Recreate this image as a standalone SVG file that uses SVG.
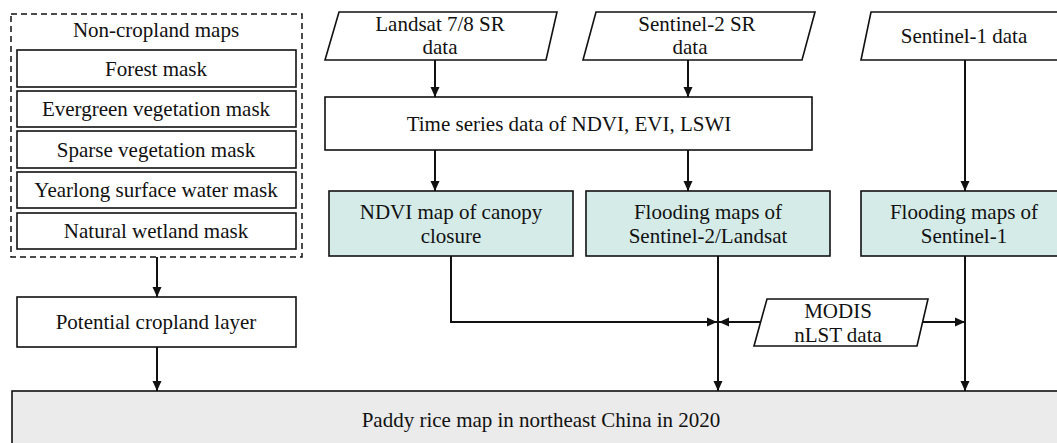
<svg xmlns="http://www.w3.org/2000/svg" width="1057" height="443" viewBox="0 0 1057 443">
<style>
text{font-family:"Liberation Serif","Times New Roman",serif;font-size:21px;fill:#111;text-anchor:middle}
.box{fill:#fff;stroke:#111;stroke-width:1.6}
.cyan{fill:#d4ebe8;stroke:#111;stroke-width:1.6}
.gray{fill:#ebebeb;stroke:#111;stroke-width:1.6}
.dash{fill:none;stroke:#111;stroke-width:1.5;stroke-dasharray:6 4}
.conn{fill:none;stroke:#111;stroke-width:2}
</style>
<defs>
<marker id="ah" viewBox="0 0 10 10" refX="10" refY="5" markerWidth="10" markerHeight="10" markerUnits="userSpaceOnUse" orient="auto">
<path d="M0,0.5 L10,5 L0,9.5 Z" fill="#111"/>
</marker>
</defs>
<rect width="1057" height="443" fill="#fff"/>
<g id="noncropland">
<rect class="dash" x="11" y="14" width="291" height="243"/>
<text x="156" y="37">Non-cropland maps</text>
</g>
<g id="forest"><rect class="box" x="17" y="50" width="279" height="37"/><text x="156" y="76">Forest mask</text></g>
<g id="evergreen"><rect class="box" x="17" y="91" width="279" height="36"/><text x="156" y="116">Evergreen vegetation mask</text></g>
<g id="sparse"><rect class="box" x="17" y="131" width="279" height="37"/><text x="156" y="157">Sparse vegetation mask</text></g>
<g id="yearlong"><rect class="box" x="17" y="172" width="279" height="36"/><text x="156" y="197">Yearlong surface water mask</text></g>
<g id="wetland"><rect class="box" x="17" y="213" width="279" height="36"/><text x="156" y="238">Natural wetland mask</text></g>
<g id="potential"><rect class="box" x="17" y="297" width="279" height="50"/><text x="156" y="329">Potential cropland layer</text></g>
<g id="landsat"><polygon class="box" points="339,12 557,12 546,60 325,60"/><text x="440" y="31">Landsat 7/8 SR</text><text x="440" y="54">data</text></g>
<g id="sentinel2"><polygon class="box" points="596,12 815,12 802,60 583,60"/><text x="697" y="31">Sentinel-2 SR</text><text x="690" y="54">data</text></g>
<g id="sentinel1"><polygon class="box" points="871,12 1070,12 1058,60 861,60"/><text x="964" y="43">Sentinel-1 data</text></g>
<g id="timeseries"><rect class="box" x="325" y="97" width="487" height="53"/><text x="569" y="131">Time series data of NDVI, EVI, LSWI</text></g>
<g id="ndvi"><rect class="cyan" x="329" y="191" width="244" height="65"/><text x="451" y="219">NDVI map of canopy</text><text x="451" y="243">closure</text></g>
<g id="flood2"><rect class="cyan" x="586" y="191" width="244" height="65"/><text x="708" y="219">Flooding maps of</text><text x="708" y="243">Sentinel-2/Landsat</text></g>
<g id="flood1"><rect class="cyan" x="861" y="191" width="210" height="65"/><text x="964" y="219">Flooding maps of</text><text x="964" y="243">Sentinel-1</text></g>
<g id="modis"><polygon class="box" points="767,299 928,299 917,346 754,346"/><text x="838" y="318">MODIS</text><text x="838" y="342">nLST data</text></g>
<g id="paddy"><rect class="gray" x="12" y="391" width="1060" height="62"/><text x="541" y="427">Paddy rice map in northeast China in 2020</text></g>
<g id="connectors">
<path class="conn" d="M435,60 V97" marker-end="url(#ah)"/>
<path class="conn" d="M688,60 V97" marker-end="url(#ah)"/>
<path class="conn" d="M435,150 V191" marker-end="url(#ah)"/>
<path class="conn" d="M688,150 V191" marker-end="url(#ah)"/>
<path class="conn" d="M965,60 V191" marker-end="url(#ah)"/>
<path class="conn" d="M157,257 V297" marker-end="url(#ah)"/>
<path class="conn" d="M157,347 V391" marker-end="url(#ah)"/>
<path class="conn" d="M451,256 V322 H717" marker-end="url(#ah)"/>
<path class="conn" d="M718,256 V391" marker-end="url(#ah)"/>
<path class="conn" d="M761,322 H719" marker-end="url(#ah)"/>
<path class="conn" d="M922,322 H965" marker-end="url(#ah)"/>
<path class="conn" d="M965,256 V391" marker-end="url(#ah)"/>
</g>
</svg>
